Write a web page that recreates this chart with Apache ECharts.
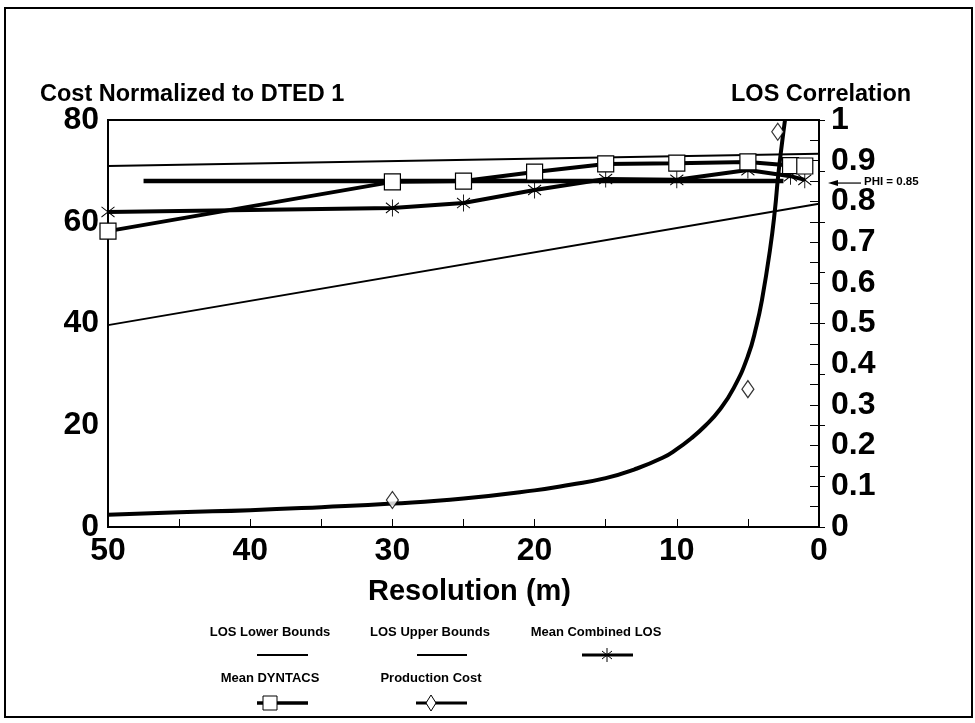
<!DOCTYPE html>
<html>
<head>
<meta charset="utf-8">
<script src="https://cdn.jsdelivr.net/npm/echarts@6/dist/echarts.min.js"></script>
<style>
html,body{margin:0;padding:0;background:#fff;}
#chart{width:975px;height:723px;}
</style>
</head>
<body>
<div id="chart"></div>
<script>
// ---- data ----
const xTickValues = [50, 40, 30, 20, 10, 0];
const costTicks = [0, 20, 40, 60, 80];
const losTicks = [0, 0.1, 0.2, 0.3, 0.4, 0.5, 0.6, 0.7, 0.8, 0.9, 1];

const lowerBoundsX = [50, 0];
const lowerBoundsY = [0.496, 0.794];
const upperBoundsX = [50, 0];
const upperBoundsY = [0.887, 0.917];

const combinedX = [50, 30, 25, 20, 15, 10, 5, 2, 1];
const combinedY = [0.774, 0.784, 0.796, 0.828, 0.855, 0.853, 0.877, 0.862, 0.853];

const dyntacsX = [50, 30, 25, 20, 15, 10, 5, 2, 1];
const dyntacsY = [0.727, 0.848, 0.850, 0.872, 0.892, 0.894, 0.897, 0.888, 0.887];

const phiX = [47.5, 2.5];
const phiY = [0.85, 0.85];

const costCurveX = [50, 45, 40, 35, 30, 25, 20, 17.5, 15, 13, 11, 10, 9, 8, 7, 6, 5, 4.4, 4, 3.45, 3.1, 2.88, 2.6, 2.39];
const costCurveY = [2.4, 2.9, 3.3, 3.9, 4.6, 5.6, 7.2, 8.3, 9.6, 11.3, 13.6, 15.3, 17.4, 19.9, 23.0, 27.3, 33.6, 39.5, 44.8, 54.4, 62.3, 68.8, 75.5, 80];

const costPointsX = [30, 5, 2.9];
const costPointsY = [5.3, 27.1, 77.7];

const legendNames = ['LOS Lower Bounds', 'LOS Upper Bounds', 'Mean Combined LOS', 'Mean DYNTACS', 'Production Cost'];

// ---- helpers ----
const zip = (xs, ys) => xs.map((x, i) => [x, ys[i]]);
const FONT = '"Liberation Sans", Arial, Helvetica, sans-serif';
const asterisk = 'path://M0,-10L0,10M-8,-6L8,6M-8,6L8,-6';
const near = (v, list) => list.some(t => Math.abs(t - v) < 1e-6);
const tickFont = {fontFamily: FONT, fontSize: 32, fontWeight: 'bold', color: '#000'};

const chart = echarts.init(document.getElementById('chart'), null, {renderer: 'canvas'});

const option = {
  backgroundColor: '#ffffff',
  animation: false,
  textStyle: {fontFamily: FONT, color: '#000'},
  title: [
    {text: 'Cost Normalized to DTED 1', left: 35, top: 78,
     textStyle: {fontFamily: FONT, fontSize: 23.5, fontWeight: 'bold', color: '#000'}},
    {text: 'LOS Correlation', left: 726, top: 78,
     textStyle: {fontFamily: FONT, fontSize: 23.5, fontWeight: 'bold', color: '#000'}}
  ],
  grid: {left: 108, right: 156, top: 120, bottom: 196, show: true,
         borderColor: '#000', borderWidth: 2, backgroundColor: 'transparent'},
  xAxis: {
    type: 'value', min: 0, max: 50, interval: 5, inverse: true,
    name: 'Resolution (m)', nameLocation: 'middle', nameGap: 50,
    nameTextStyle: {fontFamily: FONT, fontSize: 29, fontWeight: 'bold', color: '#000', padding: [0, 0, 0, 12]},
    axisLine: {show: true, lineStyle: {color: '#000', width: 2}},
    axisTick: {show: true, inside: true, length: 8, lineStyle: {color: '#000', width: 1}},
    splitLine: {show: false},
    axisLabel: Object.assign({margin: 8,
      formatter: v => near(v, xTickValues) ? String(Math.round(v)) : ''}, tickFont)
  },
  yAxis: [
    {
      type: 'value', min: 0, max: 80, interval: 10, position: 'left',
      axisLine: {show: true, lineStyle: {color: '#000', width: 2}},
      axisTick: {show: true, inside: true, length: 6, lineStyle: {color: '#000', width: 1}},
      splitLine: {show: false},
      axisLabel: Object.assign({margin: 9,
        formatter: v => near(v, costTicks) ? String(Math.round(v)) : ''}, tickFont)
    },
    {
      type: 'value', min: 0, max: 1, interval: 0.05, position: 'right',
      axisLine: {show: true, lineStyle: {color: '#000', width: 2}},
      axisTick: {show: true, inside: true, length: 9, lineStyle: {color: '#000', width: 1}},
      splitLine: {show: false},
      axisLabel: Object.assign({margin: 12,
        formatter: v => { const r = Math.round(v * 10) / 10; return near(v, losTicks) ? String(r) : ''; }}, tickFont)
    }
  ],
  series: [
    {name: legendNames[0], type: 'line', yAxisIndex: 1, data: zip(lowerBoundsX, lowerBoundsY),
     showSymbol: false, symbol: 'none', lineStyle: {color: '#000', width: 2}, z: 2},
    {name: legendNames[1], type: 'line', yAxisIndex: 1, data: zip(upperBoundsX, upperBoundsY),
     showSymbol: false, symbol: 'none', lineStyle: {color: '#000', width: 2}, z: 2},
    {name: 'PHI', type: 'line', yAxisIndex: 1, data: zip(phiX, phiY),
     symbol: 'none', lineStyle: {color: '#000', width: 4.5}, z: 3},
    {name: legendNames[2], type: 'line', yAxisIndex: 1, data: zip(combinedX, combinedY),
     symbol: asterisk, symbolSize: [13, 17], showAllSymbol: true,
     itemStyle: {color: 'transparent', borderColor: '#000', borderWidth: 1},
     lineStyle: {color: '#000', width: 4}, z: 4},
    {name: legendNames[3], type: 'line', yAxisIndex: 1, data: zip(dyntacsX, dyntacsY),
     symbol: 'rect', symbolSize: 16, showAllSymbol: true,
     itemStyle: {color: '#fff', borderColor: '#000', borderWidth: 1.2},
     lineStyle: {color: '#000', width: 4}, z: 5},
    {name: legendNames[4], type: 'line', yAxisIndex: 0, data: zip(costCurveX, costCurveY),
     smooth: true, symbol: 'none', lineStyle: {color: '#000', width: 4}, z: 4},
    {name: 'Production Cost points', type: 'scatter', yAxisIndex: 0, data: zip(costPointsX, costPointsY),
     symbol: 'diamond', symbolSize: [12, 17],
     itemStyle: {color: '#fff', borderColor: '#000', borderWidth: 1.2}, z: 6}
  ]
};
chart.setOption(option);

// ---- custom legend and annotation (graphic) ----
const phiPx = chart.convertToPixel({yAxisIndex: 1}, 0.85);
const rightPx = chart.convertToPixel({xAxisIndex: 0}, 0);
const txt = (x, y, s, size) => ({type: 'text', x: x, y: y,
  style: {text: s, fill: '#000', font: 'bold ' + size + 'px ' + FONT, textAlign: 'center', textVerticalAlign: 'middle'}});
const seg = (x1, y1, x2, y2, w) => ({type: 'line', shape: {x1: x1, y1: y1, x2: x2, y2: y2}, style: {stroke: '#000', lineWidth: w}});
const ln = (x1, y, x2, w) => seg(x1, y, x2, y, w);

const graphics = [
  {type: 'rect', shape: {x: 5, y: 8, width: 967, height: 709}, style: {fill: 'none', stroke: '#000', lineWidth: 2}, z: 0},
  // legend row 1
  txt(270, 632, legendNames[0], 13), ln(257, 655, 308, 2),
  txt(430, 632, legendNames[1], 13), ln(417, 655, 467, 2),
  txt(596, 632, legendNames[2], 13), ln(582, 655, 633, 3),
  seg(607, 648, 607, 662, 1), seg(602, 651, 612, 659, 1), seg(602, 659, 612, 651, 1),
  // legend row 2
  txt(270, 678, legendNames[3], 13), ln(257, 703, 308, 3.5),
  {type: 'rect', shape: {x: 263, y: 696, width: 14, height: 14}, style: {fill: '#fff', stroke: '#000', lineWidth: 1}},
  txt(431, 678, legendNames[4], 13), ln(416, 703, 467, 3),
  {type: 'polygon', shape: {points: [[431, 695], [436, 703], [431, 711], [426, 703]]}, style: {fill: '#fff', stroke: '#000', lineWidth: 1}},
  // PHI annotation
  ln(rightPx + 16, phiPx + 2, rightPx + 42, 1.2),
  {type: 'polygon', shape: {points: [[rightPx + 9, phiPx + 2], [rightPx + 19, phiPx - 1], [rightPx + 19, phiPx + 5]]}, style: {fill: '#000'}},
  {type: 'text', x: rightPx + 45, y: phiPx + 1, style: {text: 'PHI = 0.85', fill: '#000', font: 'bold 11.5px ' + FONT, textAlign: 'left', textVerticalAlign: 'middle'}}
];
chart.setOption({graphic: graphics});
</script>
</body>
</html>
